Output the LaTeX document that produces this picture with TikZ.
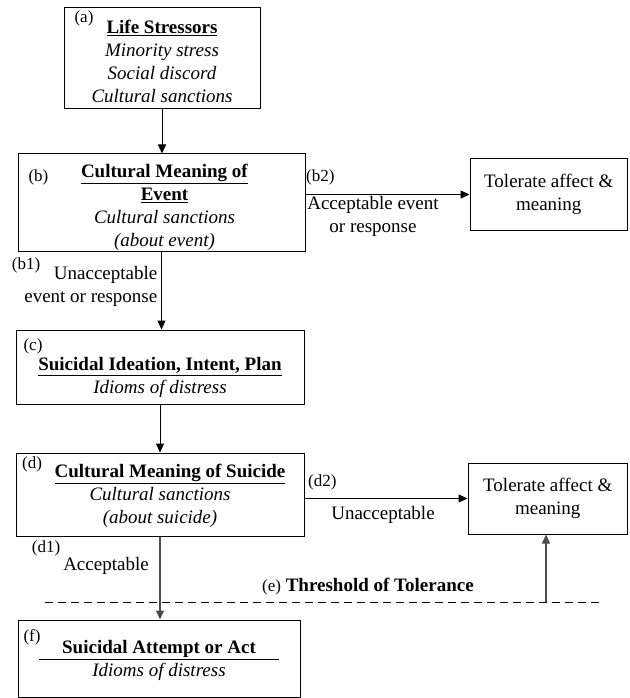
\documentclass[tikz,border=0pt]{standalone}
\usepackage{fontspec}
\setmainfont{Liberation Serif}
\usetikzlibrary{arrows.meta}

\begin{document}
\begin{tikzpicture}[x=1pt,y=-1pt,
  box/.style={draw,black,line width=1pt,align=center,inner sep=0pt,font=\fontsize{19}{23}\selectfont},
  tag/.style={inner sep=0pt,font=\fontsize{17}{20}\selectfont},
  txt/.style={align=center,inner sep=0pt,font=\fontsize{19}{23}\selectfont}]
\def\l{9pt}
\def\w{8pt}
\useasboundingbox (0,0) rectangle (629,698);

\node [box, minimum width=196, minimum height=101, name=a]      at (162,58.5) {\rule{0pt}{20pt}\underline{\textbf{Life Stressors}}\\ \textit{Minority stress}\\ \textit{Social discord}\\ \textit{Cultural sanctions}};
\node [box, minimum width=287, minimum height=95, name=b]       at (161.5,202.5) {\rule{0pt}{24pt}\hspace*{6pt}\underline{\textbf{Cultural Meaning of}}\\ \hspace*{6pt}\underline{\textbf{Event}}\\ \hspace*{6pt}\textit{Cultural sanctions}\\ \hspace*{6pt}\textit{(about event)}};
\node [box, minimum width=157.5, minimum height=72, name=t1]    at (548.75,194.5) {Tolerate affect \&\\ meaning};
\node [box, minimum width=288, minimum height=74, name=c]       at (160,367) {\rule{0pt}{35pt}\underline{\textbf{Suicidal Ideation, Intent, Plan}}\\ \textit{Idioms of distress}};
\node [box, minimum width=288, minimum height=83, name=d]       at (160,494.5) {\rule{0pt}{17pt}\hspace*{20pt}\underline{\textbf{Cultural Meaning of Suicide}}\\ \textit{Cultural sanctions}\\ \textit{(about suicide)}};
\node [box, minimum width=159.5, minimum height=71, name=t2]    at (547.75,498.5) {Tolerate affect \&\\ meaning};
\node [box, minimum width=282, minimum height=77, name=f]       at (159,658.5) {\rule{0pt}{17pt}\underline{\makebox[240pt]{\textbf{Suicidal Attempt or Act}}}\\ \textit{Idioms of distress}};

\node [tag, name=ta]    at (84,18.5) {(a)};
\node [tag, name=tb]    at (38.5,177) {(b)};
\node [tag, name=tc]    at (33,346) {(c)};
\node [tag, name=td]    at (32,464) {(d)};
\node [tag, name=tf]    at (32,637) {(f)};

\node [tag, anchor=west, name=lb2]      at (306,177) {(b2)};
\node [txt, name=acc1]                  at (373,216.5) {Acceptable event\\ or response};
\node [tag, name=lb1]                   at (26,265) {(b1)};
\node [txt, align=right, anchor=east, name=unacc1] at (157.5,286.5) {Unacceptable\\ event or response};
\node [tag, anchor=west, name=ld2]      at (308,482) {(d2)};
\node [txt, name=unacc2]                at (383,515) {Unacceptable};
\node [tag, name=ld1]                   at (46,548) {(d1)};
\node [txt, name=acc2]                  at (106,566) {Acceptable};
\node [txt, anchor=west, name=thr]      at (262,587) {{\fontsize{17}{20}\selectfont (e)} \textbf{Threshold of Tolerance}};

\coordinate (e1) at (45,602);
\coordinate (e2) at (600,602);
\coordinate (up) at (546,602);

\draw [-{Triangle[length=\l, width=\w]}, line width=1pt](a.south) to (a.south |- b.north);
\draw [-{Triangle[length=\l, width=\w]}, line width=1pt](b.south) to (b.south |- c.north);
\draw [-{Triangle[length=\l, width=\w]}, line width=1pt](c.south) to (c.south |- d.north);
\draw [-{Triangle[length=\l, width=\w]}, line width=1.3pt, black!70](d.south) to (d.south |- f.north);
\draw [-{Triangle[length=\l, width=\w]}, line width=1pt](t1.west -| b.east) to (t1.west);
\draw [-{Triangle[length=\l, width=\w]}, line width=1pt](t2.west -| d.east) to (t2.west);
\draw [-{Triangle[length=\l, width=\w]}, line width=1.3pt, black!70](up) to (up |- t2.south);
\draw [dashed, dash pattern=on 8pt off 5pt, line width=0.9pt](e1) to (e2);
\end{tikzpicture}
\end{document}
